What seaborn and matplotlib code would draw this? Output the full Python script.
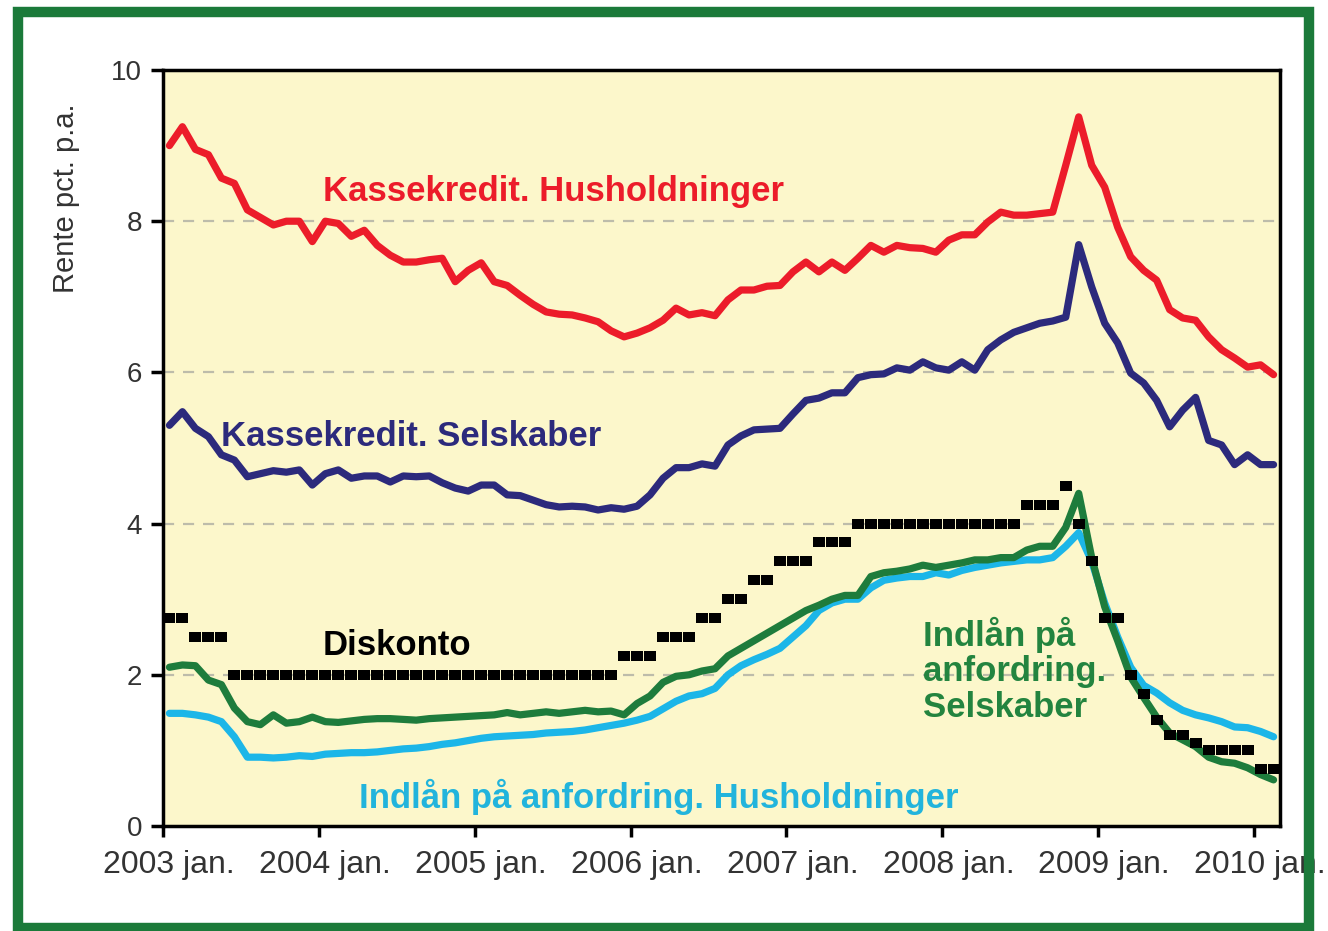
import numpy as np
import pandas as pd
import seaborn as sns
import matplotlib.pyplot as plt
import matplotlib.transforms as mtransforms
from matplotlib.patches import Rectangle

# Monthly interest rates, 2003 jan. - 2010 feb. (86 months)
kasse_hush = [9.00, 9.25, 8.95, 8.88, 8.57, 8.50, 8.15, 8.05, 7.95, 8.00,
              8.00, 7.73, 8.00, 7.97, 7.80, 7.88, 7.68, 7.55, 7.46, 7.46,
              7.49, 7.51, 7.20, 7.35, 7.45, 7.20, 7.15, 7.02, 6.90, 6.80,
              6.77, 6.76, 6.72, 6.67, 6.55, 6.47, 6.52, 6.59, 6.69, 6.85,
              6.76, 6.79, 6.75, 6.96, 7.09, 7.09, 7.14, 7.15, 7.33, 7.46,
              7.33, 7.46, 7.35, 7.51, 7.68, 7.59, 7.68, 7.65, 7.64, 7.59,
              7.75, 7.82, 7.82, 7.99, 8.12, 8.08, 8.08, 8.10, 8.12, 8.74,
              9.38, 8.74, 8.45, 7.92, 7.53, 7.35, 7.22, 6.83, 6.72, 6.69,
              6.47, 6.30, 6.19, 6.07, 6.10, 5.97]

kasse_selsk = [5.30, 5.48, 5.26, 5.15, 4.91, 4.84, 4.62, 4.66, 4.70, 4.68,
               4.71, 4.51, 4.66, 4.71, 4.60, 4.63, 4.63, 4.55, 4.63, 4.62,
               4.63, 4.54, 4.47, 4.43, 4.51, 4.51, 4.38, 4.37, 4.31, 4.25,
               4.22, 4.23, 4.22, 4.18, 4.21, 4.19, 4.23, 4.38, 4.60, 4.74,
               4.74, 4.79, 4.76, 5.04, 5.16, 5.24, 5.25, 5.26, 5.45, 5.63,
               5.66, 5.73, 5.73, 5.93, 5.97, 5.98, 6.06, 6.03, 6.14, 6.06,
               6.03, 6.14, 6.03, 6.30, 6.43, 6.53, 6.59, 6.65, 6.68, 6.73,
               7.69, 7.13, 6.65, 6.39, 5.99, 5.86, 5.63, 5.28, 5.50, 5.67,
               5.10, 5.04, 4.78, 4.91, 4.78, 4.78]

indlaan_selsk = [2.10, 2.13, 2.12, 1.93, 1.87, 1.56, 1.38, 1.34, 1.47, 1.36,
                 1.38, 1.44, 1.38, 1.37, 1.39, 1.41, 1.42, 1.42, 1.41, 1.40,
                 1.42, 1.43, 1.44, 1.45, 1.46, 1.47, 1.50, 1.47, 1.49, 1.51,
                 1.49, 1.51, 1.53, 1.51, 1.52, 1.47, 1.62, 1.72, 1.90, 1.98,
                 2.00, 2.05, 2.08, 2.25, 2.35, 2.45, 2.55, 2.65, 2.75, 2.85,
                 2.92, 3.00, 3.05, 3.05, 3.30, 3.35, 3.37, 3.40, 3.45, 3.42,
                 3.45, 3.48, 3.52, 3.52, 3.55, 3.55, 3.65, 3.70, 3.70, 3.95,
                 4.40, 3.55, 2.90, 2.45, 1.97, 1.70, 1.44, 1.23, 1.14, 1.05,
                 0.91, 0.85, 0.83, 0.77, 0.68, 0.61]

indlaan_hush = [1.49, 1.49, 1.47, 1.44, 1.38, 1.18, 0.91, 0.91, 0.90, 0.91,
                0.93, 0.92, 0.95, 0.96, 0.97, 0.97, 0.98, 1.00, 1.02, 1.03,
                1.05, 1.08, 1.10, 1.13, 1.16, 1.18, 1.19, 1.20, 1.21, 1.23,
                1.24, 1.25, 1.27, 1.30, 1.33, 1.36, 1.40, 1.45, 1.55, 1.65,
                1.72, 1.75, 1.82, 2.00, 2.12, 2.20, 2.27, 2.35, 2.50, 2.65,
                2.85, 2.95, 3.00, 3.00, 3.15, 3.25, 3.28, 3.30, 3.30, 3.35,
                3.32, 3.38, 3.42, 3.45, 3.48, 3.50, 3.52, 3.52, 3.55, 3.70,
                3.88, 3.50, 2.95, 2.50, 2.10, 1.86, 1.76, 1.63, 1.53, 1.47,
                1.43, 1.38, 1.31, 1.30, 1.25, 1.18]

diskonto = ([2.75] * 2 + [2.5] * 3 + [2.0] * 30 + [2.25] * 3 + [2.5] * 3 +
            [2.75] * 2 + [3.0] * 2 + [3.25] * 2 + [3.5] * 3 + [3.75] * 3 +
            [4.0] * 13 + [4.25] * 3 + [4.5, 4.0, 3.5] + [2.75] * 2 +
            [2.0, 1.75, 1.4] + [1.2] * 2 + [1.1] + [1.0] * 4 + [0.75] * 2)

year_labels = ['2003 jan.', '2004 jan.', '2005 jan.', '2006 jan.',
               '2007 jan.', '2008 jan.', '2009 jan.', '2010 jan.']

n = len(kasse_hush)
df = pd.DataFrame({
    'month': np.arange(n) + 0.5,
    'Kassekredit. Husholdninger': kasse_hush,
    'Kassekredit. Selskaber': kasse_selsk,
    'Indlån Selskaber': indlaan_selsk,
    'Indlån Husholdninger': indlaan_hush,
    'Diskonto': diskonto,
})

sns.set_theme(style='white')
plt.rcParams['font.family'] = ['Liberation Sans', 'DejaVu Sans']

fig = plt.figure(figsize=(13.28, 9.31), dpi=100)
ax = fig.add_axes([0.1227, 0.1128, 0.8412, 0.812])
ax.set_facecolor('#fcf7cb')

# green frame round the whole chart
fig.patches.append(Rectangle((0.0136, 0.003), 0.972, 0.984, transform=fig.transFigure,
                             fill=False, edgecolor='#1b7a3a', linewidth=7.5))

red = '#ec1c2a'
navy = '#2c2a7c'
green = '#1e7c3c'
cyan = '#1cb6e8'

sns.lineplot(data=df, x='month', y='Kassekredit. Husholdninger', color=red, lw=5.2, ax=ax)
sns.lineplot(data=df, x='month', y='Kassekredit. Selskaber', color=navy, lw=5.2, ax=ax)
sns.lineplot(data=df, x='month', y='Indlån Husholdninger', color=cyan, lw=5.2, ax=ax)
sns.lineplot(data=df, x='month', y='Indlån Selskaber', color=green, lw=5.2, ax=ax)

# diskonto as small black blocks
block = [(-1, -0.8), (1, -0.8), (1, 0.8), (-1, 0.8), (-1, -0.8)]
sns.scatterplot(data=df, x='month', y='Diskonto', color='black', marker=block, s=66,
                linewidth=0, ax=ax, zorder=5)

ax.set_xlim(0, n)
ax.set_ylim(0, 10)
ax.set_xticks(np.arange(0, 85, 12))
ax.set_xticklabels(year_labels)
ax.set_yticks([0, 2, 4, 6, 8, 10])
ax.set_xlabel('')
ax.set_ylabel('Rente pct. p.a.', fontsize=21, color='#333333')
ax.yaxis.set_label_coords(-0.074, 0.83)
ax.tick_params(axis='x', labelsize=23, colors='#333333', length=8, width=2.5, direction='out', pad=9,
               bottom=True)
ax.tick_params(axis='y', labelsize=20, colors='#333333', length=9, width=2.5, direction='out', pad=6,
               left=True)
ax.tick_params(axis='both', color='black')
# x labels sit a little right of their ticks
shift = mtransforms.ScaledTranslation(6 / 100, 0, fig.dpi_scale_trans)
for t in ax.get_xticklabels():
    t.set_transform(t.get_transform() + shift)
for s in ax.spines.values():
    s.set_color('black')
    s.set_linewidth(2.5)
for yv in [2, 4, 6, 8]:
    ax.axhline(yv, color='#bdbcaa', lw=1.6, ls=(0, (5, 4)), zorder=0.5)

bold = dict(fontsize=25, fontweight='bold', va='center', ha='left')
ax.text(12.3, 8.39, 'Kassekredit. Husholdninger', color=red, **bold)
ax.text(4.45, 5.15, 'Kassekredit. Selskaber', color=navy, **bold)
ax.text(12.3, 2.39, 'Diskonto', color='black', **bold)
ax.text(58.5, 2.06, 'Indlån på\nanfordring.\nSelskaber', color='#23843f',
        linespacing=1.1, **bold)
ax.text(15.1, 0.38, 'Indlån på anfordring. Husholdninger', color='#22b4dc', **bold)

fig.savefig('out.png', dpi=100)
